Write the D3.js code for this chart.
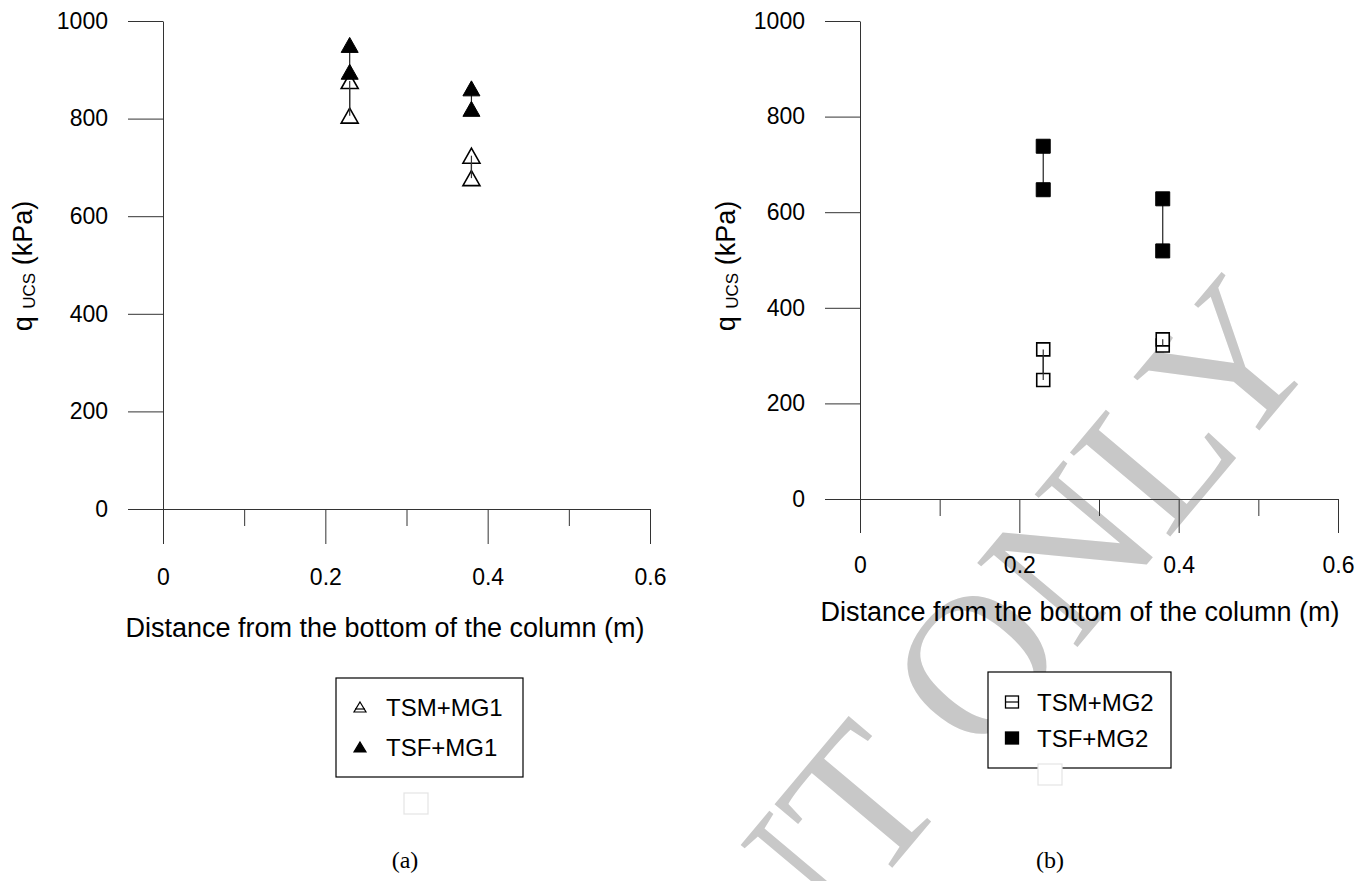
<!DOCTYPE html>
<html>
<head>
<meta charset="utf-8">
<script src="https://cdn.jsdelivr.net/npm/d3@7"></script>
<style>
  body { margin: 0; background: #fff; }
  svg { display: block; font-family: Arial, "Liberation Sans", sans-serif; }
  .axis path, .axis line { stroke: #333; stroke-width: 1; }
  .axis text { font-size: 23px; fill: #000; font-family: Arial, "Liberation Sans", sans-serif; }
</style>
</head>
<body>
<div id="vis"></div>
<script>
var W = 1355, H = 881;

// Data
var positions = [0.23, 0.38];
var tsmMg1Low = [806, 678], tsmMg1High = [877, 724];
var tsfMg1Low = [896, 820], tsfMg1High = [951, 862];
var tsmMg2Low = [249, 321], tsmMg2High = [313, 334];
var tsfMg2Low = [647, 519], tsfMg2High = [738, 628];

var xMajor = [0, 0.2, 0.4, 0.6];
var xMinor = [0.1, 0.3, 0.5];
var yTicks = [0, 200, 400, 600, 800, 1000];

var xTitle = "Distance from the bottom of the column (m)";

var svg = d3.select("#vis").append("svg")
    .attr("width", W)
    .attr("height", H);

// watermark behind everything
svg.append("text")
    .attr("transform", "translate(1325,352) rotate(-50)")
    .attr("text-anchor", "end")
    .style("font-family", "'Liberation Serif', 'Times New Roman', serif")
    .style("font-size", "200px")
    .style("fill", "#c8c8c8")
    .text("PRINT ONLY");

function seriesData(low, high) {
  return positions.map(function(p, i) { return {x: p, lo: low[i], hi: high[i]}; });
}

function triPath(w, h) {
  return "M0," + (-h / 2) + " L" + (w / 2) + "," + (h / 2) + " L" + (-w / 2) + "," + (h / 2) + " Z";
}

function rangeLines(g, data, x, y, col) {
  g.selectAll(null).data(data).enter().append("line")
      .attr("x1", function(d) { return x(d.x); })
      .attr("x2", function(d) { return x(d.x); })
      .attr("y1", function(d) { return y(d.lo); })
      .attr("y2", function(d) { return y(d.hi); })
      .attr("stroke", col).attr("stroke-width", 1.2);
}

function drawPanel(o) {
  var x = d3.scaleLinear().domain([0, 0.6]).range([o.x0, o.x1]);
  var y = d3.scaleLinear().domain([0, 1000]).range([o.y0, o.y1]);
  var g = svg.append("g");

  g.append("g").attr("class", "axis")
      .attr("transform", "translate(0," + o.y0 + ")")
      .call(d3.axisBottom(x).tickValues(xMinor).tickSize(17).tickSizeOuter(0).tickFormat(""))
      .select(".domain").remove();
  g.append("g").attr("class", "axis")
      .attr("transform", "translate(0," + o.y0 + ")")
      .call(d3.axisBottom(x).tickValues(xMajor).tickSize(o.tick).tickSizeOuter(0).tickPadding(o.xPad)
          .tickFormat(function(d) { return d === 0 ? "0" : d3.format(".1f")(d); }));
  g.append("g").attr("class", "axis")
      .attr("transform", "translate(" + o.x0 + ",0)")
      .call(d3.axisLeft(y).tickValues(yTicks).tickSize(35).tickSizeOuter(0).tickPadding(20)
          .tickFormat(d3.format("d")));

  g.append("text")
      .attr("x", o.x0 + o.titleDx)
      .attr("y", o.titleY)
      .attr("text-anchor", "middle")
      .style("font-size", "27px")
      .text(xTitle);

  var yt = g.append("text")
      .attr("transform", "translate(" + o.yTitleX + ",266) rotate(-90)")
      .attr("text-anchor", "middle")
      .style("font-size", "27px");
  yt.append("tspan").text("q ");
  yt.append("tspan").attr("dy", 3).style("font-size", "17px").text("UCS");
  yt.append("tspan").attr("dy", -3).text(" (kPa)");

  // range lines then markers
  o.series.forEach(function(s) { rangeLines(g, s.data, x, y, "#222"); });
  o.series.forEach(function(s) {
    var pts = [];
    s.data.forEach(function(d) { pts.push({x: d.x, v: d.lo}); pts.push({x: d.x, v: d.hi}); });
    var m = g.selectAll(null).data(pts).enter().append("path")
        .attr("transform", function(d) { return "translate(" + x(d.x) + "," + y(d.v) + ")"; });
    if (s.shape === "tri") {
      m.attr("d", triPath(17, 15));
    } else {
      var sz = s.filled ? 14 : 13;
      m.attr("d", "M" + (-sz / 2) + "," + (-sz / 2) + "h" + sz + "v" + sz + "h" + (-sz) + "Z");
    }
    m.attr("fill", s.filled ? "#000" : "#fff")
     .attr("stroke", "#000")
     .attr("stroke-width", s.filled ? 1 : 1.6);
  });
  // open series: line shows through the hollow marks
  o.series.forEach(function(s) {
    if (!s.filled) rangeLines(g, s.data, x, y, "#333");
  });

  // legend
  var lg = g.append("g");
  lg.append("rect")
      .attr("x", o.leg.x).attr("y", o.leg.y)
      .attr("width", o.leg.w).attr("height", o.leg.h)
      .attr("fill", "#fff").attr("stroke", "#000").attr("stroke-width", 1.2);
  o.series.forEach(function(s, i) {
    var cy = o.leg.rows[i];
    var mx = o.leg.mx;
    if (s.shape === "tri") {
      lg.append("path").attr("transform", "translate(" + mx + "," + cy + ")")
          .attr("d", triPath(12, 10))
          .attr("fill", s.filled ? "#000" : "#fff")
          .attr("stroke", "#000").attr("stroke-width", 1.2);
      if (!s.filled) lg.append("line").attr("x1", mx - 5).attr("x2", mx + 5)
          .attr("y1", cy + 2).attr("y2", cy + 2).attr("stroke", "#000").attr("stroke-width", 1.2);
    } else {
      lg.append("rect").attr("x", mx - 6.5).attr("y", cy - 6).attr("width", 13).attr("height", 12)
          .attr("fill", s.filled ? "#000" : "#fff")
          .attr("stroke", "#000").attr("stroke-width", 1.3);
      if (!s.filled) lg.append("line").attr("x1", mx - 6.5).attr("x2", mx + 6.5)
          .attr("y1", cy).attr("y2", cy).attr("stroke", "#000").attr("stroke-width", 1.2);
    }
    lg.append("text")
        .attr("x", o.leg.tx).attr("y", cy + 9)
        .style("font-size", "24px")
        .text(s.name);
  });
  // faint empty box under legend
  g.append("rect")
      .attr("x", o.ghost[0]).attr("y", o.ghost[1])
      .attr("width", 24).attr("height", 21)
      .attr("fill", "#fff").attr("stroke", "#e4e4e4").attr("stroke-width", 1.2);

  g.append("text")
      .attr("x", o.cap[0]).attr("y", 868)
      .attr("text-anchor", "middle")
      .style("font-family", "'Liberation Serif', 'Times New Roman', serif")
      .style("font-size", "24px")
      .text(o.cap[1]);
}

drawPanel({
  x0: 163, x1: 650, y0: 509, y1: 21, tick: 35, xPad: 25, titleY: 637, titleDx: 222, yTitleX: 32,
  series: [
    {name: "TSM+MG1", shape: "tri", filled: false, data: seriesData(tsmMg1Low, tsmMg1High)},
    {name: "TSF+MG1", shape: "tri", filled: true, data: seriesData(tsfMg1Low, tsfMg1High)}
  ],
  leg: {x: 336, y: 678, w: 187, h: 99, mx: 360, tx: 386, rows: [707, 747]},
  ghost: [404, 793],
  cap: [405, "(a)"]
});

drawPanel({
  x0: 860, x1: 1338, y0: 499, y1: 21, tick: 34, xPad: 24, titleY: 621, titleDx: 220, yTitleX: 735,
  series: [
    {name: "TSM+MG2", shape: "sq", filled: false, data: seriesData(tsmMg2Low, tsmMg2High)},
    {name: "TSF+MG2", shape: "sq", filled: true, data: seriesData(tsfMg2Low, tsfMg2High)}
  ],
  leg: {x: 988, y: 672, w: 183, h: 96, mx: 1012, tx: 1037, rows: [702, 738]},
  ghost: [1038, 764],
  cap: [1050, "(b)"]
});
</script>
</body>
</html>
